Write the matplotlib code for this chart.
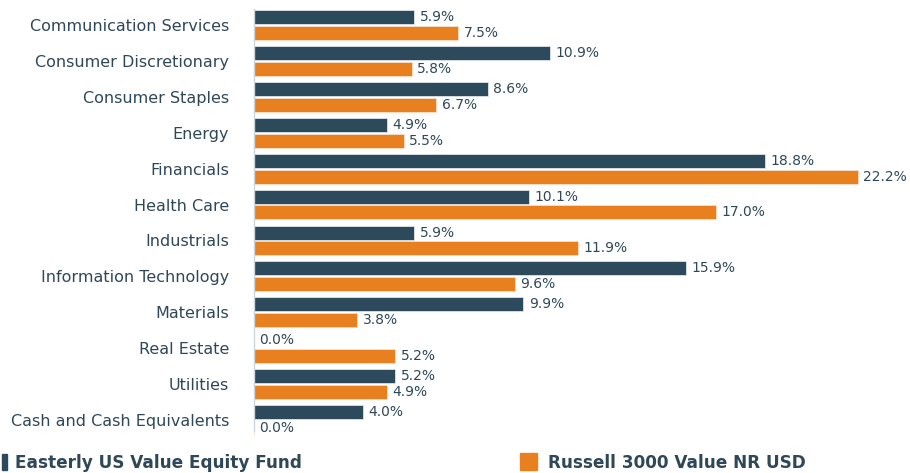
import matplotlib
matplotlib.use("Agg")
import matplotlib.pyplot as plt
from matplotlib.patches import Rectangle
import numpy as np

plt.rcParams['font.family'] = ['DejaVu Sans']

categories = ["Communication Services", "Consumer Discretionary", "Consumer Staples",
              "Energy", "Financials", "Health Care", "Industrials",
              "Information Technology", "Materials", "Real Estate", "Utilities",
              "Cash and Cash Equivalents"]
fund = [5.9, 10.9, 8.6, 4.9, 18.8, 10.1, 5.9, 15.9, 9.9, 0.0, 5.2, 4.0]
index = [7.5, 5.8, 6.7, 5.5, 22.2, 17.0, 11.9, 9.6, 3.8, 5.2, 4.9, 0.0]
series_names = ["Easterly US Value Equity Fund", "Russell 3000 Value NR USD"]

NAVY = "#2d4a5c"
ORANGE = "#e98020"
TEXT = "#2f4858"

W, H = 910, 473
fig = plt.figure(figsize=(W / 100, H / 100), dpi=100)
ax_left, ax_right = 254 / W, 1.0
ax_top, ax_bot = 1 - 7 / H, 1 - 438 / H
ax = fig.add_axes([ax_left, ax_bot, ax_right - ax_left, ax_top - ax_bot])

y = np.arange(len(categories))
off = 0.22
h = 0.39
ax.barh(y - off, fund, height=h, color=NAVY, edgecolor="#dfe4e8", linewidth=0.6)
ax.barh(y + off, index, height=h, color=ORANGE, edgecolor="#f5e0cc", linewidth=0.6)

for yi, v in zip(y - off, fund):
    ax.text(v + 0.2, yi, f"{v:.1f}%", va="center", ha="left", fontsize=10, color=TEXT)
for yi, v in zip(y + off, index):
    ax.text(v + 0.2, yi, f"{v:.1f}%", va="center", ha="left", fontsize=10, color=TEXT)

ax.set_xlim(0, (W - 254) / 27.2)
ax.set_ylim(len(categories) - 0.5, -0.5)
ax.set_yticks(y)
ax.set_yticklabels(categories, fontsize=11.5, color=TEXT)
ax.tick_params(axis="y", length=0, pad=18)
ax.set_xticks([])
for s in ["top", "right", "bottom"]:
    ax.spines[s].set_visible(False)
ax.spines["left"].set_color("#cfd4d8")
ax.spines["left"].set_linewidth(1.0)
ax.spines["left"].set_bounds(-0.45, 11.3)

# legend
fig.patches.append(Rectangle((2 / W, 1 - 470 / H), 5 / W, 16 / H,
                             transform=fig.transFigure, color=NAVY))
fig.text(15 / W, 1 - 463 / H, series_names[0], fontsize=12.2, fontweight="bold",
         color=TEXT, va="center", ha="left")
fig.patches.append(Rectangle((520 / W, 1 - 470 / H), 17 / W, 17 / H,
                             transform=fig.transFigure, color=ORANGE))
fig.text(548 / W, 1 - 463 / H, series_names[1], fontsize=12.2, fontweight="bold",
         color=TEXT, va="center", ha="left")

fig.savefig("out.png", dpi=100)
